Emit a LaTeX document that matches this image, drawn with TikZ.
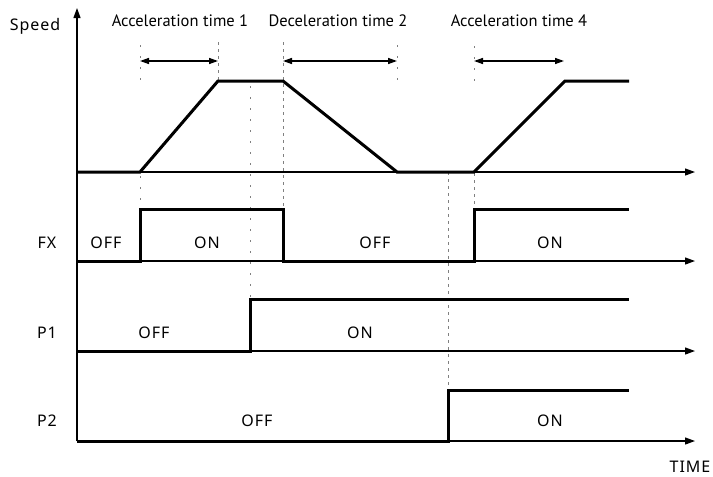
\documentclass[tikz,border=0pt]{standalone}
\usepackage{fontspec}
\setmainfont{PT Sans}
\newfontfamily\lblfont[LetterSpace=6]{Noto Sans}
\usetikzlibrary{arrows.meta}
\begin{document}
\begin{tikzpicture}[x=1pt,y=-1pt,
  axis/.style={line width=1.2pt,-{Triangle[length=10pt,width=7pt]}},
  wave/.style={line width=3pt,line join=miter,line cap=butt},
  span/.style={line width=1.4pt,{Triangle[length=9pt,width=6pt]}-{Triangle[length=9pt,width=6pt]}},
  dashline/.style={gray,line width=0.9pt,dash pattern=on 3pt off 4pt},
  dotline/.style={gray,line width=0.9pt,dash pattern=on 2pt off 9pt},
  title/.style={font=\fontsize{16.5}{18}\selectfont,inner sep=0pt},
  lbl/.style={font=\lblfont\fontsize{16}{18}\selectfont,inner sep=0pt}]
\useasboundingbox (0,0) rectangle (713,477);
% axes
\coordinate (o) at (77,441);
\coordinate (top) at (77,8);
\draw[axis] (o) -- (top);
\foreach \n/\y in {s/172,f/261,p/351,q/441}{
  \coordinate (\n0) at (77,\y);
  \coordinate (\n1) at (695,\y);
  \draw[axis] (\n0) -- (\n1);
}
% guide lines
\draw[dotline] (140,45) -- (140,80);
\draw[dotline] (140,176) -- (140,209);
\draw[dashline] (218,42) -- (218,81);
\draw[dotline] (250,86) -- (250,298);
\draw[dashline] (283,42) -- (283,209);
\draw[dotline] (397,45) -- (397,82);
\draw[dotline] (474,46) -- (474,81);
\draw[dashline] (474,173) -- (474,209);
\draw[dashline] (448,172) -- (448,390);
% speed profile
\draw[wave] (s0) -- (140,172) -- (218,81) -- (283,81) -- (397,172) -- (474,172) -- (565,81) -- (629,81);
% FX
\draw[wave] (f0) -- (140,261) -- (140,209) -- (283,209) -- (283,261) -- (474,261) -- (474,209) -- (629,209);
% P1
\draw[wave] (p0) -- (250,351) -- (250,299) -- (629,299);
% P2
\draw[wave] (q0) -- (448,441) -- (448,390) -- (629,390);
% spans
\coordinate (a1) at (140,61); \coordinate (a2) at (218,61);
\coordinate (d1) at (283,61); \coordinate (d2) at (397,61);
\coordinate (c1) at (474,61); \coordinate (c2) at (564,61);
\draw[span] (a1) -- (a2);
\draw[span] (d1) -- (d2);
\draw[span] (c1) -- (c2);
% titles
\node[title] (t1) at (180,21) {Acceleration time 1};
\node[title] (t2) at (338,21) {Deceleration time 2};
\node[title] (t4) at (519,21) {Acceleration time 4};
% labels
\node[lbl] (speed) at (35,26) {Speed};
\node[lbl] (fx) at (47,243) {FX};
\node[lbl] (fxoff1) at (106,243) {OFF};
\node[lbl] (fxon1) at (207,243) {ON};
\node[lbl] (fxoff2) at (375,243) {OFF};
\node[lbl] (fxon2) at (550,243) {ON};
\node[lbl] (p1) at (47,333) {P1};
\node[lbl] (p1off) at (154,333) {OFF};
\node[lbl] (p1on) at (360,333) {ON};
\node[lbl] (p2) at (47,421) {P2};
\node[lbl] (p2off) at (257,421) {OFF};
\node[lbl] (p2on) at (550,421) {ON};
\node[lbl] (time) at (690,467) {TIME};
\end{tikzpicture}
\end{document}
